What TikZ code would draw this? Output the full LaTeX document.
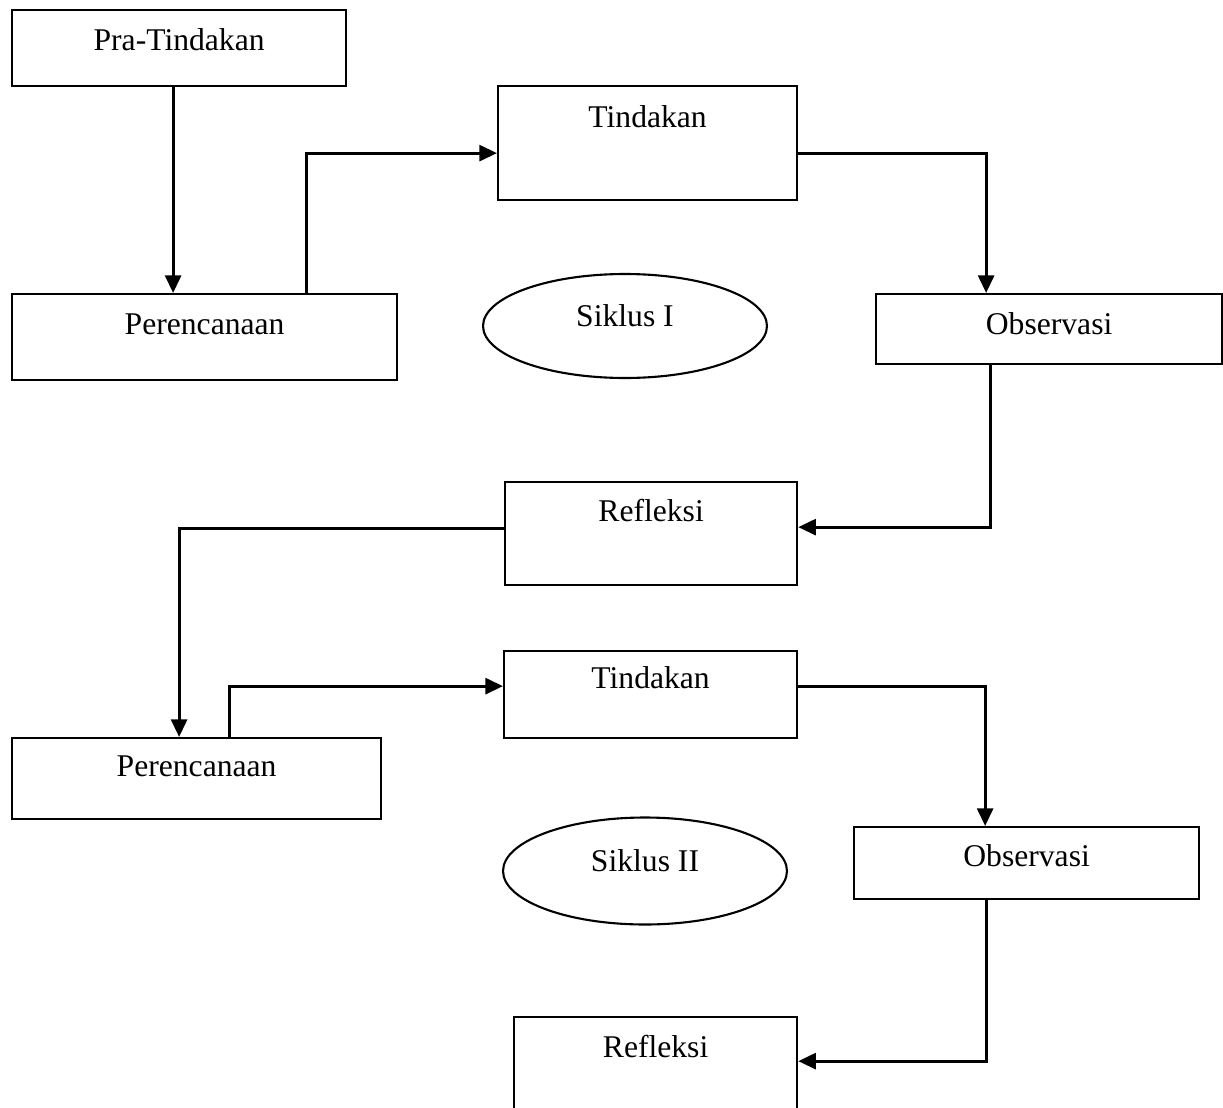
\documentclass[tikz,border=0pt]{standalone}
\usepackage{fontspec}
\setmainfont{Liberation Serif}
\usetikzlibrary{arrows.meta,shapes.geometric}
\tikzstyle{block} = [align=center,draw=black,rectangle,line width=1.3pt,inner sep=0pt,anchor=north west]
\tikzstyle{cycle} = [align=center,draw=black,ellipse,line width=1.2pt,inner sep=0pt,text height=0.5cm,text depth=0.5cm,minimum width=5.68cm]
\tikzstyle{line} = [draw,line width=1.8pt,-{Triangle[length=10pt,width=9pt]}]

\begin{document}
\begin{tikzpicture}[x=0.02cm,y=-0.02cm,font=\fontsize{18}{21}\selectfont]
				\useasboundingbox (0,0) rectangle (1223,1108);
				\node (pra) [block,minimum width=6.68cm,text height=0.80cm,text depth=0.72cm] at (11,9) {Pra-Tindakan};
				\node (tin1) [block,minimum width=5.98cm,text height=0.82cm,text depth=1.46cm] at (497,85) {Tindakan};
				\node (ren1) [block,minimum width=7.70cm,text height=0.80cm,text depth=0.92cm] at (11,293) {Perencanaan};
				\node (obs1) [block,minimum width=6.92cm,text height=0.80cm,text depth=0.60cm] at (875,293) {Observasi};
				\node (sik1) [cycle,minimum height=2.08cm] at (625,326) {Siklus I};
				\node (ref1) [block,minimum width=5.84cm,text height=0.78cm,text depth=1.28cm] at (504,481) {Refleksi};
				\node (tin2) [block,minimum width=5.86cm,text height=0.74cm,text depth=1.00cm] at (503,650) {Tindakan};
				\node (ren2) [block,minimum width=7.38cm,text height=0.76cm,text depth=0.86cm] at (11,737) {Perencanaan};
				\node (obs2) [block,minimum width=6.90cm,text height=0.78cm,text depth=0.66cm] at (853,826) {Observasi};
				\node (sik2) [cycle,minimum height=2.14cm] at (645,871) {Siklus II};
				\node (ref2) [block,minimum width=5.66cm,text height=0.80cm,text depth=1.28cm] at (513,1016) {Refleksi};
				\draw [line] ([xshift=-0.12cm]pra.south) -- ([xshift=-0.12cm]pra.south |- ren1.north);
				\draw [line] ([xshift=2.03cm]ren1.north) |- ([yshift=-0.2cm]tin1.west);
				\draw [line] ([yshift=-0.2cm]tin1.east) -| ([xshift=-1.26cm]obs1.north);
				\draw [line] ([xshift=-1.18cm]obs1.south) |- ([yshift=0.13cm]ref1.east);
				\draw [line] ([yshift=0.11cm]ref1.west) -| ([xshift=-0.35cm]ren2.north);
				\draw [line] ([xshift=0.65cm]ren2.north) |- ([yshift=0.17cm]tin2.west);
				\draw [line] ([yshift=0.17cm]tin2.east) -| ([xshift=-0.83cm]obs2.north);
				\draw [line] ([xshift=-0.81cm]obs2.south) |- ([yshift=0.16cm]ref2.east);
			\end{tikzpicture}
\end{document}
